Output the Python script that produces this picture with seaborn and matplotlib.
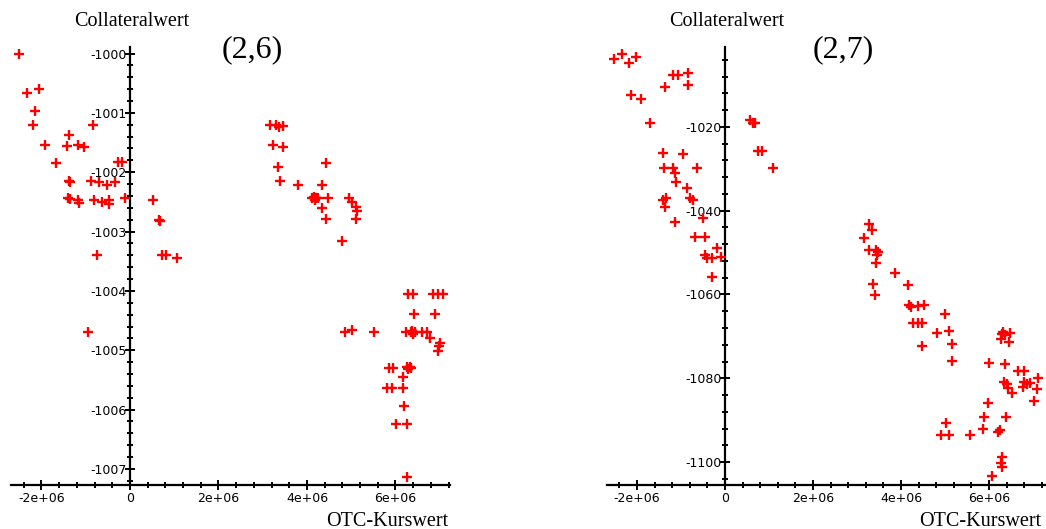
import numpy as np
import matplotlib
matplotlib.use("Agg")
import matplotlib.pyplot as plt
import seaborn as sns

# ---------------- data (x in millions, y as shown) ----------------
left_x_mio = [-2.51, -2.32, -2.06, -2.15, -2.20, -0.83, -1.37, -1.92, -1.43, -1.18,
              -1.04, -1.68, -0.26, -0.17, -1.37, -1.35, -0.87, -0.70, -0.53, -0.34,
              -1.41, -1.36, -1.17, -1.15, -0.81, -0.64, -0.47, -0.47, -0.11, 0.53,
              0.66, 0.68, -0.75, 0.73, 0.81, 1.07, -0.96,
              3.16, 3.30, 3.37, 3.46, 3.23, 3.45, 3.35, 3.39, 3.80, 4.43, 4.34,
              4.12, 4.15, 4.18, 4.21, 4.24, 4.48, 4.96, 5.02, 5.10, 5.12, 5.11, 4.34, 4.43, 4.78,
              4.86, 5.01, 5.51, 6.28, 6.39, 6.84, 6.97, 7.08, 6.42, 6.89,
              6.23, 6.34, 6.37, 6.40, 6.44, 6.59, 6.72, 6.78, 6.99, 7.01, 6.97,
              5.86, 5.95, 6.26, 6.29, 6.32, 6.35, 6.16, 5.81, 5.91, 6.16, 6.20, 6.01, 6.25, 6.25]
left_y = [-1000.01, -1000.67, -1000.60, -1000.96, -1001.20, -1001.20, -1001.37, -1001.54, -1001.56, -1001.54,
          -1001.57, -1001.84, -1001.83, -1001.83, -1002.15, -1002.17, -1002.15, -1002.16, -1002.21, -1002.16,
          -1002.44, -1002.45, -1002.47, -1002.52, -1002.46, -1002.50, -1002.47, -1002.53, -1002.44, -1002.46,
          -1002.81, -1002.83, -1003.39, -1003.39, -1003.39, -1003.45, -1004.70,
          -1001.20, -1001.20, -1001.23, -1001.22, -1001.54, -1001.57, -1001.91, -1002.15, -1002.22, -1001.84, -1002.22,
          -1002.44, -1002.42, -1002.46, -1002.43, -1002.44, -1002.44, -1002.44, -1002.51, -1002.58, -1002.65, -1002.79, -1002.61, -1002.79, -1003.16,
          -1004.70, -1004.66, -1004.70, -1004.06, -1004.06, -1004.06, -1004.06, -1004.06, -1004.39, -1004.39,
          -1004.70, -1004.70, -1004.68, -1004.72, -1004.70, -1004.70, -1004.70, -1004.80, -1004.93, -1004.88, -1005.02,
          -1005.30, -1005.30, -1005.29, -1005.31, -1005.28, -1005.30, -1005.45, -1005.63, -1005.63, -1005.63, -1005.94, -1006.25, -1006.25, -1007.13]

right_x_mio = [-2.52, -2.33, -2.18, -2.02, -1.19, -1.06, -0.83, -1.36, -0.83, -2.14,
               -1.92, -1.70, -1.42, -0.95, -1.38, -1.18, -1.14, -1.12, -0.64, -0.87,
               -0.80, -0.72, -1.40, -1.33, -1.36, -0.49, -1.14, -0.68, -0.45, -0.19,
               -0.45, -0.30, -0.42, -0.08, -0.30, 0.57, 0.64, 0.68, 0.76, 0.83,
               1.08, 3.28, 3.33, 3.17, 3.28, 3.43, 3.48, 3.45, 3.43, 3.36,
               3.41, 3.86, 4.15, 4.18, 4.22, 4.39, 4.52, 4.28, 4.39, 4.47,
               4.47, 5.00, 4.81, 5.09, 5.17, 5.15, 6.29, 6.36, 6.48, 6.46,
               6.27, 6.32, 6.01, 6.36, 6.65, 6.80, 6.34, 6.40, 6.44, 6.52,
               6.80, 6.86, 6.93, 6.77, 7.08, 7.12, 7.02, 5.98, 5.89, 6.39,
               5.87, 6.20, 6.25, 5.02, 4.91, 5.08, 5.57, 6.29, 6.27, 6.29, 6.06]
right_y = [-1003.8, -1002.6, -1004.8, -1003.2, -1007.6, -1007.6, -1007.0, -1010.5, -1010.0, -1012.4,
           -1013.3, -1019.0, -1026.3, -1026.5, -1029.9, -1029.9, -1031.1, -1033.1, -1029.9, -1034.6,
           -1037.0, -1037.4, -1037.4, -1037.0, -1039.0, -1041.8, -1042.6, -1046.2, -1046.2, -1049.0,
           -1050.6, -1051.4, -1051.4, -1051.0, -1055.8, -1018.3, -1019.0, -1019.1, -1025.7, -1025.7,
           -1029.9, -1043.2, -1044.6, -1046.6, -1049.4, -1049.4, -1049.8, -1050.6, -1052.4, -1057.6,
           -1060.1, -1054.8, -1057.7, -1062.5, -1062.9, -1062.7, -1062.5, -1066.7, -1066.9, -1066.7,
           -1072.3, -1064.7, -1069.1, -1068.6, -1071.9, -1075.9, -1069.4, -1069.7, -1069.3, -1071.3,
           -1070.7, -1069.0, -1076.3, -1076.7, -1078.2, -1078.2, -1080.8, -1081.4, -1082.4, -1083.6,
           -1080.8, -1081.4, -1081.1, -1082.0, -1082.6, -1080.0, -1085.4, -1085.8, -1089.2, -1089.2,
           -1092.0, -1092.8, -1092.4, -1090.6, -1093.6, -1093.6, -1093.6, -1098.9, -1100.2, -1101.1, -1103.3]

x_major_mio = [-2, 0, 2, 4, 6]
x_major_labels = ["-2e+06", "0", "2e+06", "4e+06", "6e+06"]
left_y_major = [-1000, -1001, -1002, -1003, -1004, -1005, -1006, -1007]
right_y_major = [-1020, -1040, -1060, -1080, -1100]
panel_titles = ["(2,6)", "(2,7)"]
y_axis_label = "Collateralwert"
x_axis_label = "OTC-Kurswert"

# ---------------- figure ----------------
W, H = 1046, 529
sns.set_style("white")
plt.rcParams["font.family"] = ["DejaVu Sans"]
fig = plt.figure(figsize=(W / 100, H / 100), dpi=100)
fig.patch.set_facecolor("white")


def add_panel(px_left, px_right, px_top, px_bottom, xlim, ylim, xs, ys,
              ymajor, yminor, xminor):
    ax = fig.add_axes([px_left / W, (H - px_bottom) / H,
                       (px_right - px_left) / W, (px_bottom - px_top) / H])
    ax.set_facecolor("white")
    sns.scatterplot(x=np.array(xs) * 1e6, y=ys, marker="+", color="#ff0000",
                    s=55, linewidth=1.7, ax=ax, clip_on=False, zorder=3, legend=False)
    ax.set_xlim(*xlim)
    ax.set_ylim(*ylim)
    for s in ["top", "right"]:
        ax.spines[s].set_visible(False)
    ax.spines["left"].set_position(("data", 0))
    for s in ["left", "bottom"]:
        ax.spines[s].set_linewidth(1.6)
        ax.spines[s].set_color("black")
        ax.spines[s].set_zorder(2)
    ax.set_xticks(np.array(x_major_mio) * 1e6, labels=x_major_labels)
    ax.set_xticks(xminor, minor=True)
    ax.set_yticks(ymajor, labels=[str(v) for v in ymajor])
    ax.set_yticks(yminor, minor=True)
    ax.tick_params(which="both", bottom=True, left=True, top=False, right=False)
    ax.tick_params(which="major", direction="inout", length=7, width=1.4,
                   color="black", labelsize=9, labelcolor="black")
    ax.tick_params(which="minor", direction="inout", length=4.5, width=1.4, color="black")
    ax.tick_params(axis="y", which="major", pad=-1)
    ax.tick_params(axis="x", which="major", pad=1.5)
    ax.set_xlabel("")
    ax.set_ylabel("")
    ax.grid(False)
    return ax


xminor = np.arange(-2.4e6, 7.3e6, 0.4e6)

add_panel(11, 450, 47, 485, (-2.689e6, 7.232e6), (-1007.27, -999.89),
          left_x_mio, left_y, left_y_major, np.arange(-1007.2, -999.95, 0.2), xminor)
add_panel(607, 1046, 47, 485, (-2.682e6, 7.295e6), (-1105.49, -1000.9),
          right_x_mio, right_y, right_y_major, np.arange(-1104, -1003, 4), xminor)

serif = ["Liberation Serif", "DejaVu Serif"]
for cx, ox in [(132, 387), (727, 980)]:
    fig.text(cx / W, 1 - 22 / H, y_axis_label, ha="center", va="center",
             fontsize=14.5, family=serif, color="black")
    fig.text(ox / W, 1 - 521 / H, x_axis_label, ha="center", va="center",
             fontsize=14.5, family=serif, color="black")
fig.text(252 / W, 1 - 50 / H, panel_titles[0], ha="center", va="center",
         fontsize=23, family=serif, color="black")
fig.text(843 / W, 1 - 50 / H, panel_titles[1], ha="center", va="center",
         fontsize=23, family=serif, color="black")

fig.savefig("out.png", dpi=100, facecolor="white")
